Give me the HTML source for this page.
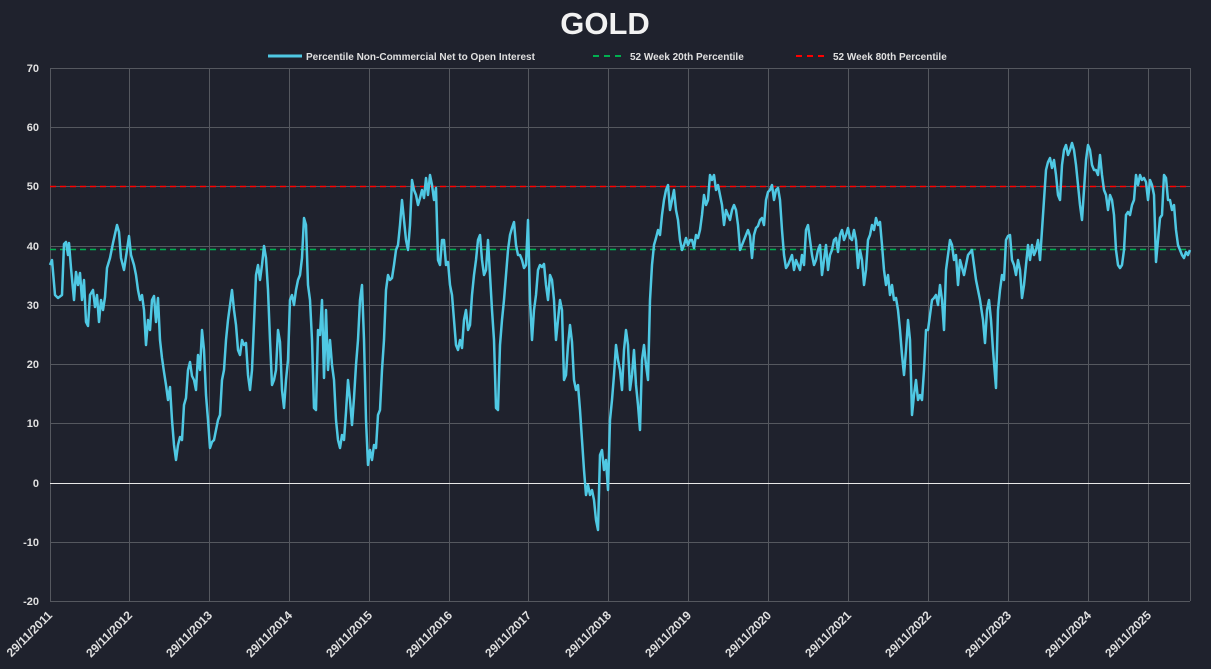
<!DOCTYPE html>
<html><head><meta charset="utf-8"><style>
html,body{margin:0;padding:0;background:#1f222d;}
svg{display:block;font-family:"Liberation Sans",sans-serif;}
</style></head><body>
<svg width="1211" height="669" viewBox="0 0 1211 669">
<rect width="1211" height="669" fill="#1f222d"/>
<text x="605" y="34" text-anchor="middle" fill="#f2f2f2" font-size="31" font-weight="bold">GOLD</text>
<line x1="268" y1="56" x2="302" y2="56" stroke="#4fc8e3" stroke-width="3"/>
<text x="306" y="60" fill="#e0e0e0" font-size="10" font-weight="bold">Percentile Non-Commercial Net to Open Interest</text>
<line x1="593" y1="56" x2="625" y2="56" stroke="#00b050" stroke-width="2" stroke-dasharray="6,5"/>
<text x="630" y="60" fill="#e0e0e0" font-size="10" font-weight="bold">52 Week 20th Percentile</text>
<line x1="796" y1="56" x2="828" y2="56" stroke="#ff0000" stroke-width="2" stroke-dasharray="6,5"/>
<text x="833" y="60" fill="#e0e0e0" font-size="10" font-weight="bold">52 Week 80th Percentile</text>
<g stroke="#55585f" stroke-width="1">
<line x1="50" y1="68.5" x2="1190" y2="68.5"/><line x1="50" y1="127.5" x2="1190" y2="127.5"/><line x1="50" y1="186.5" x2="1190" y2="186.5"/><line x1="50" y1="246.5" x2="1190" y2="246.5"/><line x1="50" y1="305.5" x2="1190" y2="305.5"/><line x1="50" y1="364.5" x2="1190" y2="364.5"/><line x1="50" y1="423.5" x2="1190" y2="423.5"/><line x1="50" y1="542.5" x2="1190" y2="542.5"/><line x1="50" y1="601.5" x2="1190" y2="601.5"/>
<line x1="50.5" y1="68" x2="50.5" y2="601"/><line x1="129.5" y1="68" x2="129.5" y2="601"/><line x1="209.5" y1="68" x2="209.5" y2="601"/><line x1="289.5" y1="68" x2="289.5" y2="601"/><line x1="369.5" y1="68" x2="369.5" y2="601"/><line x1="449.5" y1="68" x2="449.5" y2="601"/><line x1="528.5" y1="68" x2="528.5" y2="601"/><line x1="608.5" y1="68" x2="608.5" y2="601"/><line x1="688.5" y1="68" x2="688.5" y2="601"/><line x1="768.5" y1="68" x2="768.5" y2="601"/><line x1="848.5" y1="68" x2="848.5" y2="601"/><line x1="928.5" y1="68" x2="928.5" y2="601"/><line x1="1008.5" y1="68" x2="1008.5" y2="601"/><line x1="1088.5" y1="68" x2="1088.5" y2="601"/><line x1="1148.5" y1="68" x2="1148.5" y2="601"/><line x1="1190.5" y1="68" x2="1190.5" y2="601"/>
</g>
<line x1="50" y1="483.5" x2="1190" y2="483.5" stroke="#e8e8e8" stroke-width="1"/>
<g fill="#e0e0e0" font-size="11" font-weight="bold" text-anchor="end">
<text x="39" y="72">70</text><text x="39" y="131">60</text><text x="39" y="190">50</text><text x="39" y="250">40</text><text x="39" y="309">30</text><text x="39" y="368">20</text><text x="39" y="427">10</text><text x="39" y="487">0</text><text x="39" y="546">-10</text><text x="39" y="605">-20</text>
</g>
<g fill="#e0e0e0" font-size="12" font-weight="bold" text-anchor="end">
<text transform="translate(53,616) rotate(-45)">29/11/2011</text>
<text transform="translate(133,616) rotate(-45)">29/11/2012</text>
<text transform="translate(213,616) rotate(-45)">29/11/2013</text>
<text transform="translate(293,616) rotate(-45)">29/11/2014</text>
<text transform="translate(373,616) rotate(-45)">29/11/2015</text>
<text transform="translate(453,616) rotate(-45)">29/11/2016</text>
<text transform="translate(532,616) rotate(-45)">29/11/2017</text>
<text transform="translate(612,616) rotate(-45)">29/11/2018</text>
<text transform="translate(692,616) rotate(-45)">29/11/2019</text>
<text transform="translate(772,616) rotate(-45)">29/11/2020</text>
<text transform="translate(852,616) rotate(-45)">29/11/2021</text>
<text transform="translate(932,616) rotate(-45)">29/11/2022</text>
<text transform="translate(1012,616) rotate(-45)">29/11/2023</text>
<text transform="translate(1092,616) rotate(-45)">29/11/2024</text>
<text transform="translate(1152,616) rotate(-45)">29/11/2025</text>
</g>
<line x1="50" y1="249.5" x2="1190" y2="249.5" stroke="#00b050" stroke-width="1.5" stroke-dasharray="6,4"/>
<line x1="50" y1="186.5" x2="1190" y2="186.5" stroke="#ff0000" stroke-width="1.5" stroke-dasharray="6,4"/>
<polyline fill="none" stroke="#4fc8e3" stroke-width="2.5" stroke-linejoin="round" points="50,265 52,260 55,295 58,298 62,295 64,244 66,242 68,255 69,243 71,268 74,300 76,272 78,285 80,273 82,300 84,280 86,322 88,326 90,295 93,290 95,307 97,295 99,322 101,300 103,310 105,297 107,268 110,258 113,243 117,225 119,232 121,258 124,270 127,250 129,236 131,255 134,265 136,275 138,290 140,300 142,295 144,310 146,345 148,320 150,330 152,300 154,296 156,322 158,298 160,340 162,358 164,372 166,385 168,400 170,387 172,420 174,445 176,460 178,445 180,437 182,440 184,405 186,398 188,370 190,362 192,376 194,380 196,390 198,355 200,370 202,330 204,350 206,395 208,420 210,448 212,442 214,440 216,430 218,420 220,415 222,380 224,370 226,340 228,320 230,305 232,290 234,310 236,325 238,350 240,355 242,340 244,345 246,343 248,375 250,390 252,370 254,323 256,275 258,265 260,280 262,265 264,246 266,258 268,290 270,340 272,385 274,380 276,370 278,330 280,342 282,390 284,408 286,380 288,360 290,300 292,295 294,305 296,290 298,280 300,275 302,258 304,218 306,225 308,285 310,300 312,340 314,408 316,410 318,330 320,335 322,300 324,378 326,310 328,370 330,340 332,365 334,380 336,420 338,440 340,448 342,435 344,440 346,412 348,380 350,400 352,425 354,398 356,365 358,340 360,300 362,285 364,340 366,420 368,465 370,450 372,460 374,445 376,448 378,415 380,410 382,370 384,340 386,290 388,275 390,280 392,278 394,265 396,250 398,245 400,225 402,200 404,220 406,240 408,250 410,225 412,180 414,190 416,195 418,205 420,198 422,190 424,198 426,178 428,195 430,175 432,185 434,200 436,188 438,260 440,265 442,240 444,240 446,265 448,262 450,285 452,295 454,320 456,345 458,350 460,340 462,348 464,320 466,310 468,330 470,325 472,295 474,275 476,260 478,240 480,235 482,260 484,275 486,270 488,240 490,275 492,310 494,340 496,408 498,410 500,345 502,320 504,300 506,275 508,250 510,235 512,228 514,222 516,245 518,255 520,255 522,260 524,268 526,265 528,220 530,300 532,340 534,310 536,295 538,270 540,265 542,267 544,264 546,285 548,300 550,275 552,280 554,300 556,340 558,320 560,300 562,310 564,380 566,375 568,345 570,325 572,342 574,380 576,390 578,385 580,410 582,440 584,470 586,495 588,485 590,495 592,490 594,500 596,520 598,530 600,455 602,450 604,470 606,460 608,490 610,420 612,400 614,375 616,345 618,360 620,370 622,390 624,350 626,330 628,345 630,390 632,375 634,350 636,385 638,405 640,430 642,360 644,345 646,365 648,380 650,300 652,265 654,245 656,238 658,230 660,235 662,215 664,200 666,190 668,185 670,210 672,200 674,190 676,210 678,220 680,240 682,250 684,245 686,238 688,245 690,240 692,240 694,248 696,235 698,238 700,230 702,215 704,195 706,205 708,200 710,175 712,180 714,175 716,190 718,185 720,195 722,205 724,225 726,210 728,215 730,220 732,210 734,205 736,210 738,225 740,250 742,245 744,240 746,235 748,230 750,236 752,258 754,235 756,228 758,226 760,220 762,218 764,225 766,200 768,192 770,190 772,185 774,200 776,190 778,188 780,200 782,230 784,255 786,268 788,265 790,260 792,255 794,270 796,260 798,265 800,270 802,255 804,265 806,230 808,225 810,240 812,255 814,265 816,260 818,250 820,245 822,275 824,260 826,245 828,270 830,255 832,250 834,240 836,238 838,252 840,235 842,230 844,240 846,235 848,228 850,238 852,240 854,230 856,240 858,268 860,250 862,260 864,285 866,270 868,240 870,235 872,225 874,230 876,218 878,225 880,222 882,245 884,270 886,285 888,275 890,295 892,285 894,300 896,298 898,310 900,330 902,355 904,375 906,350 908,320 910,340 912,415 914,395 916,380 918,400 920,395 922,400 924,370 926,330 928,330 930,315 932,300 934,298 936,295 938,305 940,285 942,300 944,330 946,270 948,255 950,240 952,245 954,260 956,255 958,285 960,260 964,275 968,255 972,250 976,280 980,300 983,320 985,343 987,310 989,300 991,320 993,350 996,388 998,310 1000,290 1002,275 1004,280 1006,240 1008,236 1010,235 1012,260 1014,265 1016,275 1018,260 1020,270 1022,298 1024,285 1026,265 1028,245 1030,260 1032,245 1034,255 1036,250 1038,240 1040,260 1042,230 1044,200 1046,170 1048,162 1050,158 1052,168 1054,160 1056,175 1058,195 1060,200 1062,165 1064,150 1066,145 1068,155 1070,150 1072,143 1074,150 1076,165 1078,185 1080,205 1082,220 1084,190 1086,160 1088,145 1090,150 1092,165 1094,170 1096,170 1098,175 1100,155 1102,175 1104,190 1106,195 1108,210 1110,195 1112,200 1114,215 1116,250 1118,265 1120,268 1122,265 1124,250 1126,215 1128,212 1130,215 1132,205 1134,200 1136,175 1138,185 1140,175 1142,180 1144,178 1146,182 1148,200 1150,180 1152,185 1154,195 1156,262 1158,240 1160,218 1162,215 1164,175 1166,178 1168,200 1170,200 1172,210 1174,205 1176,230 1178,245 1180,250 1182,255 1184,258 1186,252 1188,255 1190,250"/>
</svg>
</body></html>
